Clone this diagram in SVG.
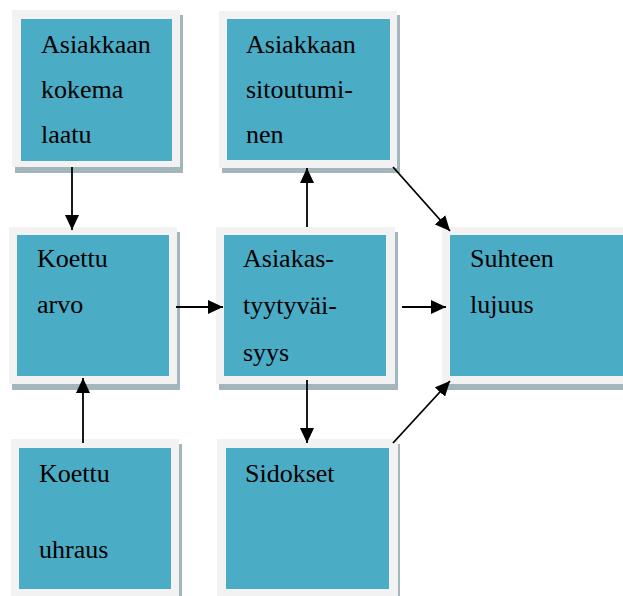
<svg xmlns="http://www.w3.org/2000/svg" width="623" height="596" viewBox="0 0 623 596">
<defs>
<style>
.sh{fill:#a3b6bb}
.fr{fill:#f2f2f2}
.in{fill:#4bacc6}
.t{font-family:'Liberation Serif','Times New Roman',Tinos,'DejaVu Serif',serif;font-size:26px;fill:#000}
.c{stroke:#000;stroke-width:1.8;fill:none;marker-end:url(#ah)}
</style>
<marker id="ah" markerUnits="userSpaceOnUse" markerWidth="16" markerHeight="14" refX="15" refY="7" orient="auto">
<path d="M0,0 L15,7 L0,14 z" fill="#000"/>
</marker>
</defs>
<rect width="623" height="596" fill="#fff"/>
<g id="n1">
<rect class="sh" x="15" y="15" width="168" height="158"/>
<rect class="fr" x="12" y="10" width="168" height="157"/>
<rect class="in" x="21" y="19" width="151" height="142"/>
<text class="t" font-family="Liberation Serif, serif" x="41" y="53">Asiakkaan</text>
<text class="t" font-family="Liberation Serif, serif" x="41" y="98">kokema</text>
<text class="t" font-family="Liberation Serif, serif" x="41" y="143">laatu</text>
</g>
<g id="n2">
<rect class="sh" x="222" y="15" width="178" height="158"/>
<rect class="fr" x="219" y="11" width="178" height="157"/>
<rect class="in" x="227" y="19" width="163" height="141"/>
<text class="t" x="246" y="53">Asiakkaan</text>
<text class="t" x="246" y="98">sitoutumi-</text>
<text class="t" x="246" y="143">nen</text>
</g>
<g id="n3">
<rect class="sh" x="12" y="232" width="168" height="158"/>
<rect class="fr" x="9" y="227" width="168" height="157"/>
<rect class="in" x="17" y="235" width="152" height="141"/>
<text class="t" x="37" y="267">Koettu</text>
<text class="t" x="37" y="313">arvo</text>
</g>
<g id="n4">
<rect class="sh" x="219" y="232" width="179" height="158"/>
<rect class="fr" x="216" y="227" width="179" height="157"/>
<rect class="in" x="224" y="235" width="162" height="141"/>
<text class="t" x="243" y="267">Asiakas-</text>
<text class="t" x="243" y="314">tyytyväi-</text>
<text class="t" x="243" y="361">syys</text>
</g>
<g id="n5">
<rect class="sh" x="445" y="232" width="200" height="158"/>
<rect class="fr" x="442" y="227" width="200" height="157"/>
<rect class="in" x="450" y="235" width="190" height="141"/>
<text class="t" x="470" y="267">Suhteen</text>
<text class="t" x="470" y="313">lujuus</text>
</g>
<g id="n6">
<rect class="sh" x="14" y="444" width="168" height="160"/>
<rect class="fr" x="11" y="439" width="168" height="160"/>
<rect class="in" x="19" y="448" width="152" height="141"/>
<text class="t" x="39" y="482">Koettu</text>
<text class="t" x="39" y="558">uhraus</text>
</g>
<g id="n7">
<rect class="sh" x="220" y="444" width="180" height="160"/>
<rect class="fr" x="217" y="439" width="181" height="160"/>
<rect class="in" x="226" y="448" width="163" height="141"/>
<text class="t" x="245" y="482">Sidokset</text>
</g>
<g id="connectors">
<line class="c" x1="72" y1="167" x2="72" y2="230"/>
<line class="c" x1="83" y1="443" x2="83" y2="378"/>
<line class="c" x1="176" y1="307" x2="223" y2="307"/>
<line class="c" x1="307" y1="227" x2="307" y2="168"/>
<line class="c" x1="307" y1="380" x2="307" y2="443"/>
<line class="c" x1="402" y1="307" x2="446" y2="307"/>
<line class="c" x1="393" y1="167" x2="450" y2="231"/>
<line class="c" x1="393" y1="443" x2="450" y2="381"/>
</g>
</svg>
